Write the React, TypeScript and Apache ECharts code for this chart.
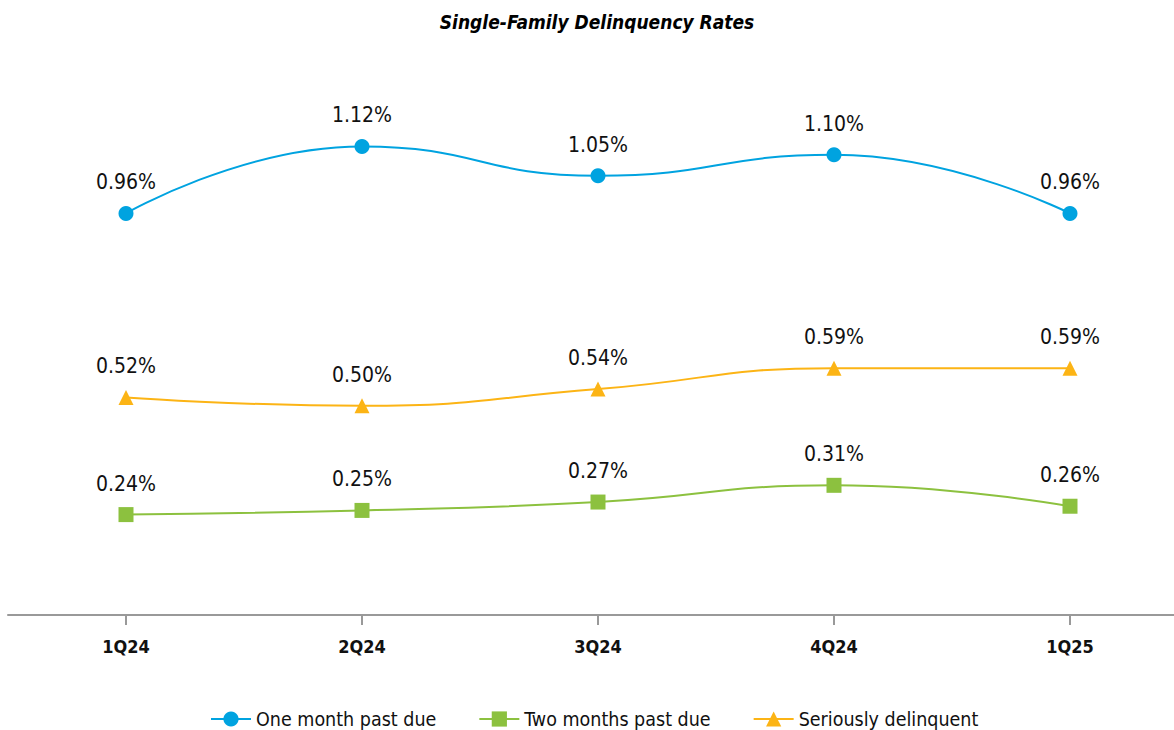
import React, { useEffect, useRef } from "react";
import * as echarts from "echarts";

const categories = ["1Q24", "2Q24", "3Q24", "4Q24", "1Q25"];
const oneMonth = [0.96, 1.12, 1.05, 1.1, 0.96];
const twoMonths = [0.24, 0.25, 0.27, 0.31, 0.26];
const serious = [0.52, 0.5, 0.54, 0.59, 0.59];
const seriesNames = ["One month past due", "Two months past due", "Seriously delinquent"];
const titleText = "Single-Family Delinquency Rates";

const FONT = "'Liberation Sans Narrow', 'Arial Narrow', 'DejaVu Sans Condensed', sans-serif";
const BLUE = "#00a3e0";
const GREEN = "#8cc13f";
const ORANGE = "#fcb415";

export default function App() {
  const ref = useRef<HTMLDivElement>(null);
  useEffect(() => {
    document.body.style.margin = "0";
    document.body.style.overflow = "hidden";
    if (!ref.current) return;
    const chart = echarts.init(ref.current, undefined, { renderer: "svg" });
    const mkSeries = (name: string, data: number[], color: string, symbol: string) => ({
      name,
      type: "line",
      data,
      smooth: 0.5,
      symbol,
      symbolSize: 15,
      showSymbol: true,
      lineStyle: { color, width: 2 },
      itemStyle: { color },
      label: {
        show: true,
        position: "top",
        distance: 13,
        formatter: (p: any) => p.value.toFixed(2) + "%",
        color: "#111",
        fontSize: 21,
        fontFamily: FONT,
      },
    });
    chart.setOption({
      animation: false,
      textStyle: { fontFamily: FONT },
      graphic: [
        {
          type: "text",
          x: 597,
          y: 22,
          style: {
            text: titleText,
            align: "center",
            verticalAlign: "middle",
            fontSize: 19,
            fontWeight: "bold",
            fontStyle: "italic",
            fontFamily: FONT,
            fill: "#000",
          },
        },
      ],
      legend: {
        left: 210,
        top: 709,
        padding: 0,
        itemWidth: 40,
        itemHeight: 19,
        itemGap: 42,
        textStyle: { fontSize: 19.5, color: "#111", fontFamily: FONT },
        data: seriesNames,
      },
      grid: { left: 8, width: 1180, top: 113, height: 502, outerBoundsMode: "none", containLabel: false },
      xAxis: {
        type: "category",
        data: categories,
        boundaryGap: true,
        axisLine: { lineStyle: { color: "#999", width: 2 } },
        axisTick: {
          show: true,
          interval: 0,
          inside: false,
          alignWithLabel: true,
          length: 10,
          lineStyle: { color: "#999", width: 2 },
        },
        axisLabel: { fontSize: 18, fontWeight: "bold", color: "#111", margin: 22, fontFamily: FONT },
      },
      yAxis: { type: "value", min: 0, max: 1.2, show: false, splitLine: { show: false } },
      series: [
        mkSeries(seriesNames[0], oneMonth, BLUE, "circle"),
        mkSeries(seriesNames[1], twoMonths, GREEN, "rect"),
        mkSeries(seriesNames[2], serious, ORANGE, "triangle"),
      ],
    });
    return () => chart.dispose();
  }, []);
  return <div ref={ref} style={{ width: 1174, height: 730 }} />;
}
